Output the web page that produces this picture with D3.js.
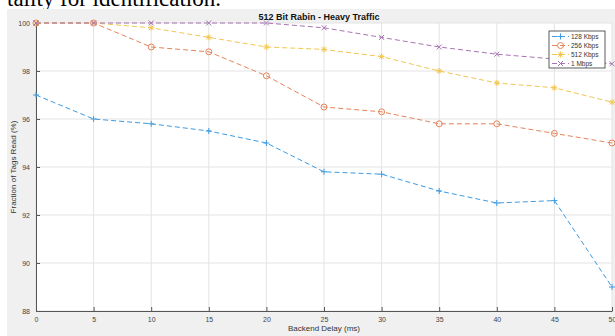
<!DOCTYPE html>
<html>
<head>
<meta charset="utf-8">
<script src="https://cdn.jsdelivr.net/npm/d3@7"></script>
<style>
  body { margin: 0; background: #fff; }
  svg text { font-family: Arial, "Liberation Sans", sans-serif; }
</style>
</head>
<body>
<div id="chart"></div>
<script>
"use strict";

// backend delay (ms)
const delays = [0, 5, 10, 15, 20, 25, 30, 35, 40, 45, 50];

// fraction of tags read (%) per data rate
const kbps128 = [97, 96, 95.8, 95.5, 95, 93.8, 93.7, 93, 92.5, 92.6, 89];
const kbps256 = [100, 100, 99, 98.8, 97.8, 96.5, 96.3, 95.8, 95.8, 95.4, 95];
const kbps512 = [100, 100, 99.8, 99.4, 99, 98.9, 98.6, 98, 97.5, 97.3, 96.7];
const mbps1 = [100, 100, 100, 100, 100, 99.8, 99.4, 99, 98.7, 98.5, 98.3];

const seriesNames = ["128 Kbps", "256 Kbps", "512 Kbps", "1 Mbps"];
const xTicks = [0, 5, 10, 15, 20, 25, 30, 35, 40, 45, 50];
const yTicks = [88, 90, 92, 94, 96, 98, 100];

const W = 615, H = 336;
const margin = { left: 36, right: 3, top: 23, bottom: 25 };

const svg = d3.select("#chart").append("svg")
    .attr("width", W)
    .attr("height", H);

// bit of page text cut off above the figure
svg.append("text")
    .attr("x", 7)
    .attr("y", 6)
    .style("font-family", "'Liberation Serif', 'Times New Roman', serif")
    .style("font-size", "23px")
    .attr("fill", "#000")
    .text("tality for identification.");

// gray figure background
svg.append("rect")
    .attr("x", 7).attr("y", 9)
    .attr("width", W - 7).attr("height", H - 9)
    .attr("fill", "#f0f0f0");

const x = d3.scaleLinear().domain([0, 50]).range([margin.left, W - margin.right]);
const y = d3.scaleLinear().domain([88, 100]).range([H - margin.bottom, margin.top]);

// white plot area
svg.append("rect")
    .attr("x", x(0)).attr("y", y(100))
    .attr("width", x(50) - x(0)).attr("height", y(88) - y(100))
    .attr("fill", "#fff");

// grid
const grid = svg.append("g");
grid.selectAll(".vg").data(xTicks).enter().append("line")
    .attr("x1", d => x(d)).attr("x2", d => x(d))
    .attr("y1", y(100)).attr("y2", y(88))
    .attr("stroke", "#e3e3e3").attr("stroke-width", 1);
grid.selectAll(".hg").data(yTicks).enter().append("line")
    .attr("x1", x(0)).attr("x2", x(50))
    .attr("y1", d => y(d)).attr("y2", d => y(d))
    .attr("stroke", "#e3e3e3").attr("stroke-width", 1);

// axes (ticks point inwards)
const xAxis = svg.append("g")
    .attr("transform", `translate(0,${y(88)})`)
    .call(d3.axisBottom(x).tickValues(xTicks).tickSizeInner(-4).tickSizeOuter(0).tickPadding(6));
const yAxis = svg.append("g")
    .attr("transform", `translate(${x(0)},0)`)
    .call(d3.axisLeft(y).tickValues(yTicks).tickSizeInner(-4).tickSizeOuter(0).tickPadding(6));

[xAxis, yAxis].forEach(a => {
    a.select(".domain").attr("stroke", "#555");
    a.selectAll(".tick line").attr("stroke", "#555");
    a.selectAll(".tick text").attr("fill", "#444").style("font-size", "7px");
});

// axis labels & title
svg.append("text")
    .attr("x", (x(0) + x(50)) / 2).attr("y", 331)
    .attr("text-anchor", "middle")
    .style("font-size", "8px").attr("fill", "#333")
    .text("Backend Delay (ms)");

svg.append("text")
    .attr("transform", `translate(16,${(y(88) + y(100)) / 2}) rotate(-90)`)
    .attr("text-anchor", "middle")
    .style("font-size", "8px").attr("fill", "#333")
    .text("Fraction of Tags Read (%)");

svg.append("text")
    .attr("x", 319).attr("y", 19.5)
    .attr("text-anchor", "middle")
    .style("font-size", "9px").style("font-weight", "bold").attr("fill", "#111")
    .text("512 Bit Rabin - Heavy Traffic");

// series
const colors = ["#3d9be0", "#e5835a", "#f2c650", "#a874b3"];
const series = [kbps128, kbps256, kbps512, mbps1].map((vals, i) => ({
    name: seriesNames[i],
    color: colors[i],
    points: vals.map((v, j) => [delays[j], v])
}));

const line = d3.line().x(d => x(d[0])).y(d => y(d[1]));

function drawMarker(g, kind, cx, cy, color) {
    const s = 3;
    if (kind === 0) {
        g.append("path").attr("d", `M${cx - s},${cy}H${cx + s}M${cx},${cy - s}V${cy + s}`)
            .attr("stroke", color).attr("fill", "none");
    } else if (kind === 1) {
        g.append("circle").attr("cx", cx).attr("cy", cy).attr("r", 3)
            .attr("stroke", color).attr("fill", "none");
    } else if (kind === 2) {
        g.append("path").attr("d", `M${cx - s},${cy}H${cx + s}M${cx},${cy - s}V${cy + s}M${cx - 2.2},${cy - 2.2}L${cx + 2.2},${cy + 2.2}M${cx - 2.2},${cy + 2.2}L${cx + 2.2},${cy - 2.2}`)
            .attr("stroke", color).attr("fill", "none");
    } else {
        g.append("path").attr("d", `M${cx - 2.5},${cy - 2.5}L${cx + 2.5},${cy + 2.5}M${cx - 2.5},${cy + 2.5}L${cx + 2.5},${cy - 2.5}`)
            .attr("stroke", color).attr("fill", "none");
    }
}

const plot = svg.append("g");
series.forEach((s, i) => {
    plot.append("path")
        .datum(s.points)
        .attr("d", line)
        .attr("fill", "none")
        .attr("stroke", s.color)
        .attr("stroke-width", 1)
        .attr("stroke-dasharray", "5,3");
    const mg = plot.append("g");
    s.points.forEach(p => drawMarker(mg, i, x(p[0]), y(p[1]), s.color));
});

// legend
const lg = svg.append("g").attr("transform", "translate(549,31)");
lg.append("rect")
    .attr("width", 56).attr("height", 37)
    .attr("fill", "#fff").attr("stroke", "#333").attr("stroke-width", 0.8);
series.forEach((s, i) => {
    const ly = 5.5 + i * 9;
    lg.append("line")
        .attr("x1", 3).attr("x2", 20).attr("y1", ly).attr("y2", ly)
        .attr("stroke", s.color).attr("stroke-dasharray", "5,3");
    drawMarker(lg, i, 11.5, ly, s.color);
    lg.append("text")
        .attr("x", 22).attr("y", ly + 2.3)
        .style("font-size", "6.5px").attr("fill", "#333")
        .text(s.name);
});
</script>
</body>
</html>
